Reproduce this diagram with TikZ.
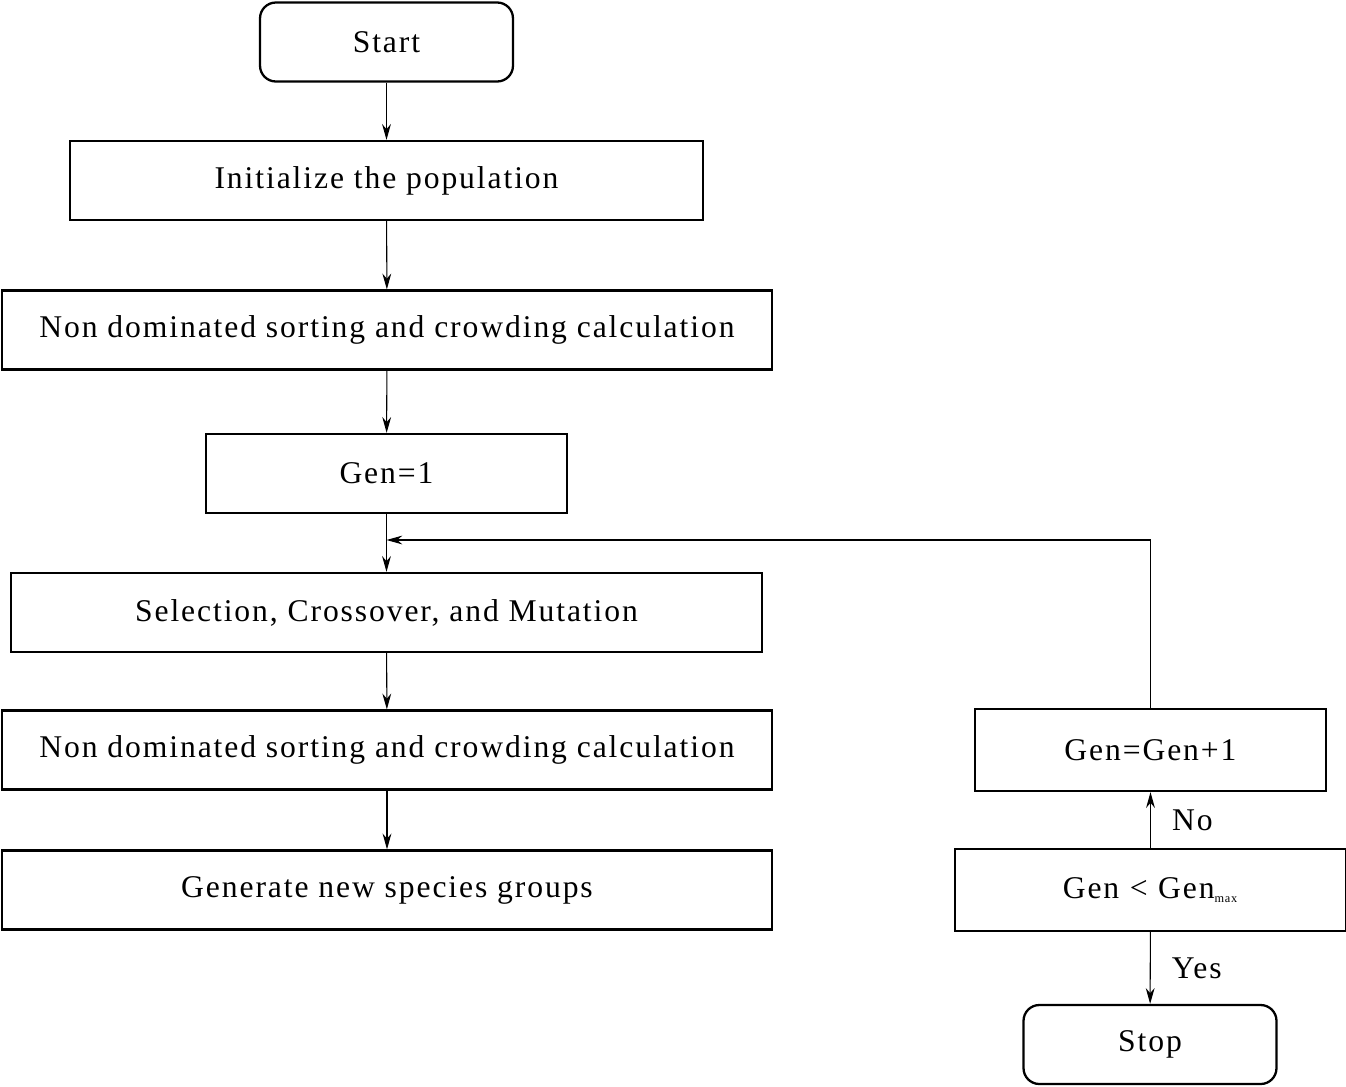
\documentclass[tikz,border=0pt]{standalone}
\usepackage{fontspec}
\setmainfont{Liberation Serif}[LetterSpace=6]
\usetikzlibrary{arrows.meta}

\begin{document}
\begin{tikzpicture}[
  x=0.02cm, y=-0.02cm,
  box/.style={draw, line width=1.3pt, minimum height=1.58cm, inner sep=2pt,
    align=center, font=\fontsize{18}{21}\selectfont},
  term/.style={box, rounded corners=9pt, minimum width=5.06cm},
  arrow/.style={-{Stealth[length=9pt, width=5pt]}, line width=0.6pt},
  label/.style={font=\fontsize{18}{21}\selectfont, right, inner sep=0pt, xshift=12pt, midway}
]
  \useasboundingbox (0,0) rectangle (1346,1086);

  \node[term] (start) at (386.5,42) {Start};
  \node[box, minimum width=12.66cm] (init) at (386.5,180.5) {Initialize the population};
  \node[box, minimum width=15.4cm] (nds1) at (387,330) {Non dominated sorting and crowding calculation};
  \node[box, minimum width=7.22cm] (gen1) at (386.5,473.5) {Gen=1};
  \node[box, minimum width=15.02cm] (scm) at (386.5,612.5) {Selection, Crossover, and Mutation};
  \node[box, minimum width=15.4cm] (nds2) at (387,750) {Non dominated sorting and crowding calculation};
  \node[box, minimum width=15.4cm] (newgen) at (387,890) {Generate new species groups};

  \node[box, minimum width=7.02cm, minimum height=1.64cm] (inc) at (1150.5,750) {Gen=Gen+1};
  \node[box, minimum width=7.82cm, minimum height=1.64cm] (check) at (1150.5,890)
    {Gen\,\,<\,\,Gen\textsubscript{\fontsize{7}{8}\selectfont max}};
  \node[term] (stop) at (1150,1044.5) {Stop};

  \coordinate (merge) at (386.5,540);

  \draw[arrow] (start) -- (init);
  \draw[arrow] (init) -- (nds1);
  \draw[arrow] (nds1) -- (gen1);
  \draw[arrow] (gen1) -- (scm);
  \draw[arrow] (scm) -- (nds2);
  \draw[arrow] (nds2) -- (newgen);

  % loop back
  \draw[arrow] (check) -- node[label]{No} (inc);
  \draw[arrow] (check) -- node[label]{Yes} (stop);
  \draw[arrow] (inc.north) |- (merge);
\end{tikzpicture}
\end{document}
